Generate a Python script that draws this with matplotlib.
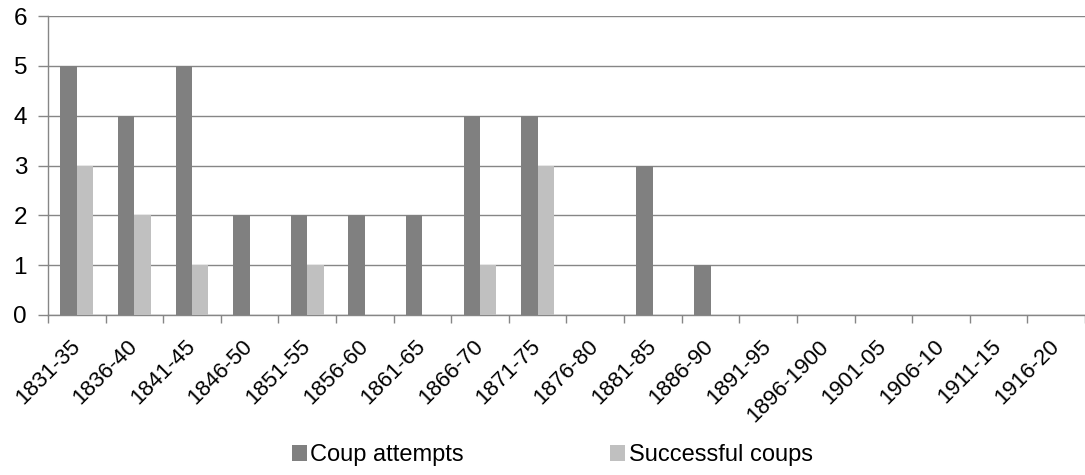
import numpy as np
import matplotlib
matplotlib.use("Agg")
import matplotlib.pyplot as plt

plt.rcParams["font.family"] = ["Liberation Sans", "DejaVu Sans"]

periods = ["1831-35", "1836-40", "1841-45", "1846-50", "1851-55", "1856-60",
           "1861-65", "1866-70", "1871-75", "1876-80", "1881-85", "1886-90",
           "1891-95", "1896-1900", "1901-05", "1906-10", "1911-15", "1916-20"]
attempts = [5, 4, 5, 2, 2, 2, 2, 4, 4, 0, 3, 1, 0, 0, 0, 0, 0, 0]
successful = [3, 2, 1, 0, 1, 0, 0, 1, 3, 0, 0, 0, 0, 0, 0, 0, 0, 0]

GRID = "#868686"
DARK = "#808080"
LIGHT = "#C0C0C0"

fig = plt.figure(figsize=(10.85, 4.75), dpi=100)
ax = fig.add_axes([0.0442, 0.337, 1.0 - 0.0442, 0.966 - 0.337])

x = np.arange(len(periods))
w = 0.285
ax.bar(x - w / 2, attempts, width=w, color=DARK, label="Coup attempts", zorder=3)
ax.bar(x + w / 2, successful, width=w, color=LIGHT, label="Successful coups", zorder=3)

ax.set_ylim(0, 6)
ax.set_yticks(range(7))
ax.set_xlim(-0.5, 17.38)
ax.yaxis.grid(True, color=GRID, linewidth=1, zorder=0)
ax.set_axisbelow(True)

for s in ["top", "right"]:
    ax.spines[s].set_visible(False)
for s in ["left", "bottom"]:
    ax.spines[s].set_color(GRID)
    ax.spines[s].set_linewidth(1)

# category boundary ticks on x
ax.set_xticks(np.arange(len(periods) + 1) - 0.5, minor=False)
ax.set_xticklabels([])
ax.tick_params(axis="x", which="major", length=6, color=GRID, width=1, direction="out")
ax.set_xticks(x, minor=True)
ax.set_xticklabels(periods, minor=True, rotation=45, ha="right", va="center",
                   rotation_mode="anchor", fontsize=16)
ax.tick_params(axis="x", which="minor", length=0, pad=20.5)
ax.tick_params(axis="y", length=7, color=GRID, width=1, labelsize=17.5, pad=8)

fig.legend(loc="center", bbox_to_anchor=(0.509, 0.042), ncol=2, frameon=False,
           fontsize=17, handlelength=0.64, handleheight=0.64, handletextpad=0.15,
           columnspacing=6.2)

fig.savefig("out.png", dpi=100)
